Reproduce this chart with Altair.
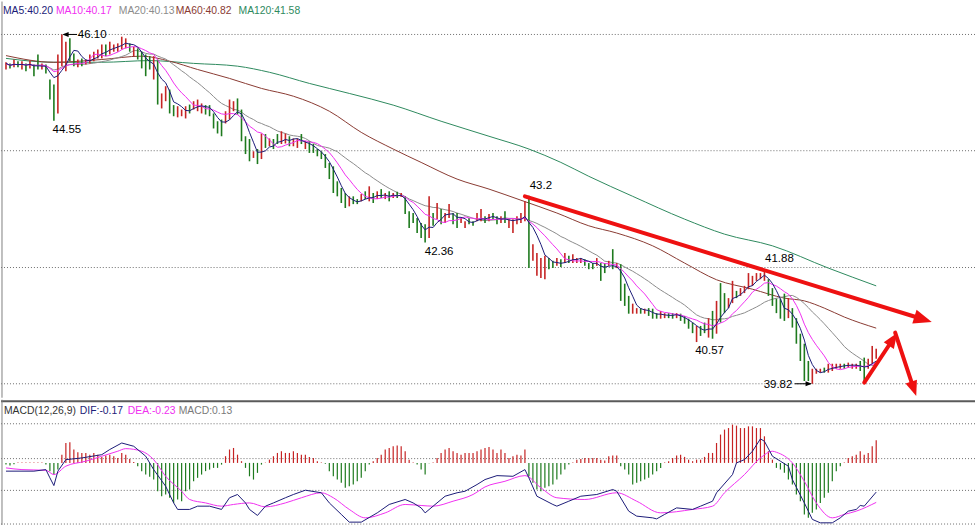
import altair as alt
import pandas as pd

# ---------------- data ----------------
hi = [45.60, 45.58, 45.65, 45.62, 45.62, 45.58, 45.63, 45.56, 45.74, 45.58,
      45.56, 45.29, 45.20, 45.74, 46.10, 45.97, 46.03, 45.76, 45.65, 45.67,
      45.65, 45.74, 45.79, 45.83, 45.92, 45.92, 45.97, 45.92, 45.94, 46.06,
      46.03, 45.94, 45.88, 45.85, 45.79, 45.74, 45.71, 45.71, 45.65, 45.04,
      45.17, 45.11, 44.83, 44.81, 44.75, 44.81, 44.84, 44.90, 44.93, 44.86,
      44.83, 44.83, 44.68, 44.54, 44.57, 44.72, 44.93, 44.90, 44.95, 44.75,
      44.27, 44.22, 44.00, 44.04, 44.32, 44.31, 44.23, 44.22, 44.31, 44.36,
      44.32, 44.27, 44.23, 44.23, 44.31, 44.18, 44.18, 44.13, 44.04, 44.00,
      43.95, 43.79, 43.73, 43.46, 43.34, 43.25, 43.19, 43.19, 43.14, 43.23,
      43.28, 43.37, 43.25, 43.28, 43.32, 43.25, 43.28, 43.25, 43.27, 43.25,
      43.19, 42.92, 42.89, 42.80, 42.71, 42.69, 43.19, 42.89, 43.07, 42.96,
      42.89, 43.05, 42.89, 42.89, 42.80, 42.74, 42.80, 42.74, 42.89, 42.96,
      42.83, 42.87, 42.89, 42.83, 42.83, 42.92, 42.78, 42.78, 42.83, 42.89,
      43.10, 43.20, 42.33, 42.17, 42.08, 42.12, 42.08, 42.03, 42.08, 42.06,
      42.17, 42.12, 42.15, 42.08, 42.08, 42.06, 41.99, 41.99, 42.08, 41.99,
      41.99, 42.03, 42.24, 41.99, 41.97, 41.62, 41.40, 41.26, 41.18, 41.18,
      41.17, 41.18, 41.17, 41.09, 41.13, 41.09, 41.09, 41.09, 41.09, 41.08,
      41.04, 40.99, 40.92, 40.86, 40.86, 40.92, 41.00, 41.13, 41.31, 41.63,
      41.45, 41.36, 41.67, 41.49, 41.54, 41.58, 41.81, 41.76, 41.81, 41.81,
      41.88, 41.70, 41.54, 41.35, 41.35, 41.44, 41.36, 41.18, 41.00, 40.72,
      40.54, 40.23, 40.09, 40.09, 40.09, 40.11, 40.18, 40.18, 40.18, 40.18,
      40.18, 40.20, 40.18, 40.18, 40.23, 40.29, 40.27, 40.50, 40.45]

lo = [45.47, 45.49, 45.51, 45.51, 45.47, 45.44, 45.49, 45.35, 45.47, 45.47,
      45.40, 44.93, 44.55, 44.68, 45.53, 45.44, 45.62, 45.53, 45.51, 45.53,
      45.56, 45.58, 45.62, 45.67, 45.67, 45.71, 45.74, 45.79, 45.79, 45.83,
      45.85, 45.79, 45.71, 45.65, 45.49, 45.35, 45.47, 45.29, 44.84, 44.77,
      44.90, 44.68, 44.63, 44.61, 44.63, 44.59, 44.68, 44.75, 44.72, 44.68,
      44.66, 44.63, 44.41, 44.32, 44.27, 44.50, 44.57, 44.72, 44.66, 44.18,
      43.95, 43.82, 43.88, 43.77, 43.86, 44.06, 44.09, 44.04, 44.13, 44.13,
      44.14, 44.09, 44.09, 44.06, 44.13, 44.04, 43.97, 43.97, 43.91, 43.86,
      43.70, 43.50, 43.25, 43.19, 43.07, 42.98, 43.01, 43.05, 43.05, 43.10,
      43.14, 43.10, 43.07, 43.14, 43.16, 43.14, 43.10, 43.16, 43.16, 43.18,
      42.87, 42.62, 42.71, 42.53, 42.44, 42.36, 42.44, 42.66, 42.78, 42.69,
      42.71, 42.80, 42.69, 42.62, 42.71, 42.62, 42.69, 42.66, 42.74, 42.74,
      42.71, 42.74, 42.78, 42.69, 42.71, 42.71, 42.62, 42.53, 42.69, 42.71,
      42.74, 41.90, 42.03, 41.76, 41.72, 41.70, 41.88, 41.90, 41.94, 41.92,
      41.99, 41.99, 41.99, 41.99, 41.99, 41.94, 41.88, 41.88, 41.94, 41.67,
      41.81, 41.94, 41.88, 41.90, 41.31, 41.22, 41.08, 41.08, 41.08, 41.08,
      41.08, 41.04, 40.99, 40.99, 40.99, 41.00, 41.00, 40.99, 41.00, 40.95,
      40.90, 40.81, 40.73, 40.57, 40.68, 40.73, 40.65, 40.63, 40.72, 40.92,
      41.09, 41.18, 41.27, 41.36, 41.40, 41.45, 41.52, 41.58, 41.67, 41.70,
      41.67, 41.40, 41.22, 41.09, 40.99, 40.95, 41.00, 40.83, 40.54, 40.23,
      39.87, 39.87, 39.82, 40.00, 40.02, 40.02, 40.02, 40.05, 40.09, 40.09,
      40.09, 40.11, 40.09, 40.09, 40.05, 39.87, 40.09, 40.18, 40.27]

close = [45.58, 45.51, 45.60, 45.54, 45.58, 45.51, 45.58, 45.47, 45.54, 45.56,
         45.49, 45.04, 44.99, 45.71, 46.05, 45.94, 45.79, 45.58, 45.65, 45.56,
         45.63, 45.71, 45.76, 45.79, 45.87, 45.76, 45.92, 45.90, 45.92, 46.01,
         45.97, 45.83, 45.85, 45.71, 45.56, 45.44, 45.51, 45.62, 44.93, 44.99,
         45.11, 44.75, 44.66, 44.75, 44.74, 44.77, 44.72, 44.86, 44.90, 44.83,
         44.70, 44.66, 44.47, 44.38, 44.43, 44.68, 44.86, 44.86, 44.72, 44.23,
         44.00, 43.88, 43.98, 43.82, 44.25, 44.11, 44.22, 44.07, 44.16, 44.32,
         44.29, 44.13, 44.20, 44.20, 44.16, 44.14, 44.00, 44.00, 43.93, 43.88,
         43.73, 43.53, 43.32, 43.23, 43.10, 43.03, 43.16, 43.09, 43.07, 43.19,
         43.18, 43.28, 43.12, 43.25, 43.19, 43.23, 43.16, 43.23, 43.19, 43.23,
         42.92, 42.67, 42.74, 42.57, 42.49, 42.46, 42.92, 42.71, 43.01, 42.78,
         42.85, 43.00, 42.74, 42.69, 42.78, 42.73, 42.71, 42.69, 42.85, 42.92,
         42.74, 42.83, 42.80, 42.73, 42.80, 42.76, 42.74, 42.73, 42.80, 42.85,
         43.01, 42.21, 42.28, 42.10, 42.03, 42.06, 41.92, 41.94, 42.05, 41.96,
         42.12, 42.03, 42.10, 42.06, 42.06, 41.97, 41.92, 41.92, 42.05, 41.81,
         41.88, 42.01, 41.96, 41.97, 41.40, 41.27, 41.13, 41.20, 41.17, 41.09,
         41.15, 41.08, 41.02, 41.02, 41.09, 41.08, 41.04, 41.02, 41.08, 40.99,
         40.92, 40.84, 40.77, 40.81, 40.72, 40.77, 40.95, 40.77, 41.26, 41.31,
         41.22, 41.35, 41.62, 41.40, 41.52, 41.54, 41.74, 41.72, 41.78, 41.79,
         41.83, 41.45, 41.27, 41.13, 41.04, 41.00, 41.31, 40.88, 40.59, 40.29,
         39.96, 39.93, 40.05, 40.07, 40.09, 40.04, 40.14, 40.14, 40.16, 40.16,
         40.11, 40.18, 40.16, 40.16, 40.09, 40.02, 40.23, 40.41, 40.38]

up = [1, 0, 1, 0, 1, 0, 1, 0, 0, 1,
      0, 0, 0, 1, 1, 1, 0, 0, 1, 0,
      1, 1, 1, 1, 1, 0, 1, 1, 1, 1,
      1, 0, 1, 0, 0, 0, 0, 1, 0, 1,
      1, 0, 0, 1, 1, 1, 0, 1, 1, 1,
      0, 0, 0, 0, 0, 1, 1, 1, 0, 0,
      0, 0, 1, 0, 1, 0, 1, 0, 0, 1,
      1, 0, 1, 1, 0, 1, 0, 0, 0, 0,
      0, 0, 0, 0, 0, 0, 1, 0, 0, 1,
      0, 1, 0, 1, 0, 1, 0, 1, 0, 1,
      0, 0, 0, 0, 0, 0, 1, 0, 1, 0,
      1, 1, 0, 0, 1, 1, 0, 0, 1, 1,
      0, 1, 0, 0, 1, 0, 1, 1, 1, 1,
      1, 0, 1, 1, 1, 1, 0, 0, 1, 0,
      1, 0, 1, 1, 1, 0, 0, 0, 1, 0,
      0, 1, 0, 1, 0, 0, 0, 1, 1, 0,
      1, 0, 0, 0, 1, 1, 0, 0, 1, 0,
      0, 0, 0, 1, 0, 0, 1, 0, 1, 0,
      0, 1, 1, 0, 1, 1, 1, 1, 1, 1,
      1, 0, 0, 0, 0, 0, 1, 0, 0, 0,
      0, 0, 1, 1, 1, 0, 1, 1, 1, 1,
      0, 1, 1, 1, 0, 0, 1, 1, 1]

macd_hist = [-0.010, -0.015, -0.008, 0.003, 0.003, 0.002, 0.003, 0.002, 0.003, 0.002,
             -0.010, -0.048, -0.068, -0.039, 0.048, 0.116, 0.120, 0.078, 0.062, 0.058,
             0.058, 0.048, 0.058, 0.048, 0.035, 0.043, 0.048, 0.039, 0.029, 0.058,
             0.048, 0.023, 0.005, -0.019, -0.048, -0.068, -0.081, -0.097, -0.165, -0.194,
             -0.184, -0.203, -0.233, -0.213, -0.223, -0.165, -0.155, -0.107, -0.087, -0.068,
             -0.048, -0.039, -0.029, -0.029, -0.010, 0.039, 0.078, 0.087, 0.048, 0.010,
             -0.029, -0.078, -0.097, -0.058, -0.010, 0.002, 0.019, 0.039, 0.058, 0.068,
             0.058, 0.058, 0.068, 0.058, 0.048, 0.048, 0.035, 0.029, 0.010, 0.002,
             -0.005, -0.048, -0.078, -0.097, -0.116, -0.145, -0.136, -0.126, -0.107, -0.087,
             -0.048, -0.010, 0.010, 0.029, 0.048, 0.078, 0.087, 0.097, 0.101, 0.097,
             0.068, 0.019, 0.002, -0.010, -0.039, -0.068, -0.002, 0.002, 0.029, 0.058,
             0.078, 0.087, 0.068, 0.058, 0.048, 0.058, 0.058, 0.058, 0.068, 0.078,
             0.087, 0.093, 0.078, 0.058, 0.078, 0.058, 0.029, 0.039, 0.048, 0.043,
             0.078, -0.078, -0.116, -0.155, -0.165, -0.145, -0.136, -0.126, -0.097, -0.068,
             -0.039, -0.010, 0.002, 0.019, 0.023, 0.029, 0.029, 0.029, 0.029, 0.019,
             0.014, 0.039, 0.043, 0.043, -0.019, -0.039, -0.068, -0.126, -0.116, -0.107,
             -0.097, -0.087, -0.068, -0.048, -0.029, 0.002, 0.010, 0.029, 0.043, 0.048,
             0.035, 0.019, 0.010, 0.019, 0.019, 0.035, 0.058, 0.058, 0.116, 0.165,
             0.194, 0.203, 0.223, 0.217, 0.203, 0.203, 0.213, 0.213, 0.203, 0.203,
             0.155, 0.068, 0.019, -0.029, -0.039, -0.058, -0.097, -0.126, -0.184, -0.223,
             -0.300, -0.320, -0.291, -0.271, -0.233, -0.203, -0.174, -0.107, -0.048, -0.019,
             0.002, 0.029, 0.039, 0.048, 0.068, 0.048, 0.058, 0.097, 0.132]

ma60_i = [0, 12, 24, 34, 41, 48, 56, 64, 72, 81, 89, 97, 104, 113, 121, 129, 138,
          146, 153, 162, 170, 178, 187, 195, 200, 205, 210, 218]
ma60_v = [45.72, 45.60, 45.65, 45.71, 45.62, 45.47, 45.31, 45.13, 44.99, 44.72, 44.34,
          44.04, 43.80, 43.50, 43.32, 43.12, 42.89, 42.66, 42.53, 42.30, 41.99, 41.69,
          41.52, 41.36, 41.31, 41.18, 41.02, 40.82]

ma120_i = [0, 12, 24, 36, 47, 58, 66, 76, 86, 97, 109, 121, 131, 139, 146, 157,
           170, 180, 192, 206, 218]
ma120_v = [45.67, 45.60, 45.60, 45.63, 45.58, 45.53, 45.42, 45.22, 45.04, 44.83, 44.54,
           44.27, 44.04, 43.80, 43.55, 43.19, 42.78, 42.51, 42.30, 41.90, 41.58]

dif_i = [0, 7, 10, 11, 12, 13, 15, 19, 24, 26, 29, 32, 35, 37, 40, 42, 43, 46, 48, 51,
         54, 56, 58, 60, 61, 63, 65, 67, 70, 72, 75, 79, 81, 84, 86, 89, 93, 96, 100,
         102, 104, 105, 107, 110, 113, 115, 118, 120, 123, 127, 130, 131, 133, 137, 138,
         141, 144, 148, 152, 153, 156, 158, 162, 163, 165, 168, 172, 174, 177, 178, 182,
         183, 185, 187, 189, 190, 192, 194, 196, 197, 200, 202, 204, 207, 209, 211, 213,
         214, 215, 218]
dif_v = [-0.048, -0.048, -0.039, -0.087, -0.132, -0.048, 0.019, 0.029, 0.048, 0.078,
         0.116, 0.097, 0.039, -0.039, -0.136, -0.233, -0.271, -0.271, -0.252, -0.252,
         -0.271, -0.203, -0.184, -0.233, -0.271, -0.306, -0.252, -0.233, -0.203, -0.184,
         -0.159, -0.174, -0.233, -0.300, -0.345, -0.345, -0.291, -0.242, -0.213, -0.233,
         -0.262, -0.291, -0.252, -0.194, -0.174, -0.165, -0.126, -0.097, -0.074, -0.078,
         -0.039, -0.087, -0.194, -0.242, -0.252, -0.223, -0.194, -0.184, -0.155, -0.165,
         -0.281, -0.310, -0.320, -0.326, -0.300, -0.262, -0.271, -0.252, -0.223, -0.174,
         -0.068, 0.000, 0.019, 0.068, 0.140, 0.126, 0.039, 0.010, -0.019, -0.097,
         -0.233, -0.329, -0.349, -0.349, -0.320, -0.281, -0.271, -0.248, -0.252, -0.170]

dea_i = [0, 4, 10, 12, 15, 20, 24, 28, 30, 34, 37, 40, 44, 46, 50, 54, 57, 61, 65, 70,
         74, 79, 82, 86, 90, 95, 100, 104, 107, 112, 117, 120, 125, 130, 134, 138, 145,
         153, 158, 164, 172, 177, 180, 185, 189, 192, 193, 197, 200, 203, 207, 210, 213,
         218]
dea_v = [-0.029, -0.039, -0.043, -0.068, -0.019, 0.010, 0.039, 0.068, 0.083, 0.068,
         0.019, -0.078, -0.165, -0.213, -0.233, -0.252, -0.242, -0.233, -0.256, -0.233,
         -0.203, -0.174, -0.203, -0.271, -0.320, -0.291, -0.242, -0.248, -0.252, -0.223,
         -0.184, -0.140, -0.107, -0.074, -0.145, -0.203, -0.213, -0.174, -0.223, -0.291,
         -0.271, -0.252, -0.174, -0.068, 0.029, 0.068, 0.062, 0.000, -0.107, -0.233,
         -0.320, -0.300, -0.281, -0.230]

price_grid = [46.10, 44.01, 41.91, 39.82]
macd_grid = [0.228, 0.025, -0.160, -0.356]

# price marks: text, bar index, price
mark_text_ = ["46.10", "44.55", "42.36", "43.2", "41.88", "40.57", "39.82"]
mark_i = [14, 12, 105, 131, 190, 173, 202]
mark_p = [46.10, 44.55, 42.36, 43.20, 41.88, 40.57, 39.82]

# drawn trend arrows (bar index / price)
seg_i1 = [130, 215, 222.75]
seg_p1 = [43.19, 39.84, 40.74]
seg_i2 = [229.75, 222.2, 227.4]
seg_p2 = [40.98, 40.62, 39.73]
head_angle = [107.1, 33.4, 160.75]
head_size = [330, 230, 230]

# ---------------- build ----------------
N = len(hi)
bars = pd.DataFrame({"i": list(range(N)), "hi": hi, "lo": lo, "close": close,
                     "up": up, "hist": macd_hist})
bars["ma5"] = bars["close"].rolling(5, min_periods=1).mean()
bars["ma10"] = bars["close"].rolling(10, min_periods=1).mean()
bars["ma20"] = bars["close"].rolling(20, min_periods=1).mean()
bars["hup"] = (bars["hist"] >= 0).astype(int)

W = 976
H1 = 397
H2 = 128
FONT = "Liberation Sans"
RED = "#c62424"
GREEN = "#1e7a1e"
HRED = "#a82020"
HGREEN = "#226e22"
C_MA5 = "#1c1c78"
C_MA10 = "#f030f0"
C_MA20 = "#8c8c8c"
C_MA60 = "#8a3b33"
C_MA120 = "#2e8a5e"
ARROW = "#ee1111"
TRI = "M0,-1L0.8,1L-0.8,1Z"

XS = alt.Scale(domain=[-1.25, 242.75], nice=False, zero=False)
YP = alt.Scale(domain=[39.569, 46.692], nice=False, zero=False)
YM = alt.Scale(domain=[-0.376, 0.368], nice=False, zero=False)

xi = alt.X("i:Q", scale=XS, axis=None)

# ---- top panel ----
grid_top = alt.Chart(pd.DataFrame({"p": price_grid})).mark_rule(
    color="#6e6e6e", strokeDash=[1, 2], strokeWidth=1
).encode(y=alt.Y("p:Q", scale=YP, axis=None), x=alt.value(0), x2=alt.value(W))

left_top = alt.Chart(pd.DataFrame({"a": [0]})).mark_rule(color="#808080", strokeWidth=1).encode(
    x=alt.value(1), y=alt.value(0), y2=alt.value(H1))

base = alt.Chart(bars)
candles = base.mark_rule(strokeWidth=1.6).encode(
    x=xi,
    y=alt.Y("lo:Q", scale=YP, axis=None),
    y2="hi:Q",
    color=alt.Color("up:N", scale=alt.Scale(domain=[0, 1], range=[GREEN, RED]), legend=None),
)

def ma_line(field, color):
    return base.mark_line(color=color, strokeWidth=1).encode(
        x=xi, y=alt.Y(f"{field}:Q", scale=YP, axis=None))

ma60 = alt.Chart(pd.DataFrame({"i": ma60_i, "v": ma60_v})).mark_line(
    color=C_MA60, strokeWidth=1, interpolate="monotone").encode(
    x=xi, y=alt.Y("v:Q", scale=YP, axis=None))
ma120 = alt.Chart(pd.DataFrame({"i": ma120_i, "v": ma120_v})).mark_line(
    color=C_MA120, strokeWidth=1, interpolate="monotone").encode(
    x=xi, y=alt.Y("v:Q", scale=YP, axis=None))

segs = pd.DataFrame({"i": seg_i1, "p": seg_p1, "i2": seg_i2, "p2": seg_p2,
                     "ang": head_angle, "sz": head_size})
arrow_lines = alt.Chart(segs).mark_rule(color=ARROW, strokeWidth=4, strokeCap="round").encode(
    x=xi, y=alt.Y("p:Q", scale=YP, axis=None), x2="i2:Q", y2="p2:Q")
arrow_heads = alt.Chart(segs).mark_point(shape=TRI, filled=True, color=ARROW, opacity=1).encode(
    x=alt.X("i2:Q", scale=XS, axis=None),
    y=alt.Y("p2:Q", scale=YP, axis=None),
    angle=alt.Angle("ang:Q", scale=None),
    size=alt.Size("sz:Q", scale=None, legend=None),
)

# small black pointer arrows for the 46.10 and 39.82 marks
ptr = pd.DataFrame({"i": [14.6, 197.6], "i2": [17.8, 201.6], "p": [46.10, 39.82],
                    "hx": [14.9, 201.1], "ang": [270, 90]})
ptr_lines = alt.Chart(ptr).mark_rule(color="#000000", strokeWidth=1).encode(
    x=xi, x2="i2:Q", y=alt.Y("p:Q", scale=YP, axis=None))
ptr_heads = alt.Chart(ptr).mark_point(shape=TRI, filled=True, color="#000000", size=40, opacity=1).encode(
    x=alt.X("hx:Q", scale=XS, axis=None), y=alt.Y("p:Q", scale=YP, axis=None),
    angle=alt.Angle("ang:Q", scale=None))

lab_df = pd.DataFrame({"t": mark_text_, "i": mark_i, "p": mark_p})
offsets = {"46.10": (16, 1, "left"), "44.55": (13, 9, "center"), "42.36": (14, 10, "center"),
           "43.2": (12, -10, "center"), "41.88": (15, -10, "center"),
           "40.57": (13, 9, "center"), "39.82": (-20, 1, "right")}
label_layers = []
for t, (dx, dy, al) in offsets.items():
    label_layers.append(
        alt.Chart(lab_df[lab_df.t == t]).mark_text(
            font=FONT, fontSize=11.5, color="#000000", dx=dx, dy=dy, align=al, baseline="middle"
        ).encode(x=xi, y=alt.Y("p:Q", scale=YP, axis=None), text="t:N")
    )

hdr_top = [("MA5:40.20", 2, C_MA5), ("MA10:40.17", 55, C_MA10), ("MA20:40.13", 118, C_MA20),
           ("MA60:40.82", 175, C_MA60), ("MA120:41.58", 238, C_MA120)]
hdr_layers = []
for t, px, col in hdr_top:
    hdr_layers.append(alt.Chart(pd.DataFrame({"t": [t]})).mark_text(
        font=FONT, fontSize=10.4, color=col, align="left", baseline="middle").encode(
        x=alt.value(px), y=alt.value(9), text="t:N"))

top = alt.layer(
    grid_top, left_top, ma120, ma60, ma_line("ma20", C_MA20), candles,
    ma_line("ma10", C_MA10), ma_line("ma5", C_MA5),
    arrow_lines, arrow_heads, ptr_lines, ptr_heads, *label_layers, *hdr_layers
).properties(width=W, height=H1)

# ---- MACD panel ----
grid_bot = alt.Chart(pd.DataFrame({"v": macd_grid})).mark_rule(
    color="#6e6e6e", strokeDash=[1, 2], strokeWidth=1
).encode(y=alt.Y("v:Q", scale=YM, axis=None), x=alt.value(0), x2=alt.value(W))

frame_bot = alt.layer(
    alt.Chart(pd.DataFrame({"a": [0]})).mark_rule(color="#5a5a5a", strokeWidth=2).encode(
        x=alt.value(0), x2=alt.value(W), y=alt.value(1.5)),
    alt.Chart(pd.DataFrame({"a": [0]})).mark_rule(color="#8a8a8a", strokeWidth=1.5).encode(
        x=alt.value(0), x2=alt.value(W), y=alt.value(126.5)),
    alt.Chart(pd.DataFrame({"a": [0]})).mark_rule(color="#808080", strokeWidth=1).encode(
        x=alt.value(1), y=alt.value(0), y2=alt.value(H2)),
)

histo = base.mark_rule(strokeWidth=1.2).encode(
    x=xi,
    y=alt.Y("hist:Q", scale=YM, axis=None),
    y2=alt.datum(0),
    color=alt.Color("hup:N", scale=alt.Scale(domain=[0, 1], range=[HGREEN, HRED]), legend=None),
)

dif_line = alt.Chart(pd.DataFrame({"i": dif_i, "v": dif_v})).mark_line(
    color=C_MA5, strokeWidth=1).encode(x=xi, y=alt.Y("v:Q", scale=YM, axis=None))
dea_line = alt.Chart(pd.DataFrame({"i": dea_i, "v": dea_v})).mark_line(
    color=C_MA10, strokeWidth=1, interpolate="monotone").encode(x=xi, y=alt.Y("v:Q", scale=YM, axis=None))

hdr_bot = [("MACD(12,26,9)", 3, "#333333"), ("DIF:-0.17", 79, C_MA5),
           ("DEA:-0.23", 127, C_MA10), ("MACD:0.13", 178, "#7a7a7a")]
hdr_b_layers = []
for t, px, col in hdr_bot:
    hdr_b_layers.append(alt.Chart(pd.DataFrame({"t": [t]})).mark_text(
        font=FONT, fontSize=10.4, color=col, align="left", baseline="middle").encode(
        x=alt.value(px), y=alt.value(11), text="t:N"))

bottom = alt.layer(grid_bot, frame_bot, histo, dea_line, dif_line, *hdr_b_layers).properties(
    width=W, height=H2)

chart = alt.vconcat(top, bottom, spacing=0).properties(
    padding=0, background="white"
).configure_view(stroke=None)

chart.save("out.html", embed_options={"renderer": "svg", "actions": False})
